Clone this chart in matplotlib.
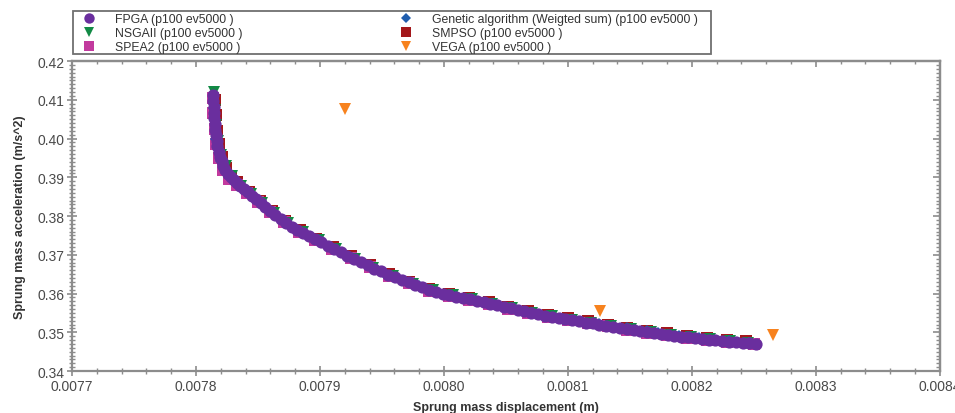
import numpy as np
import matplotlib.pyplot as plt
from matplotlib.patches import Rectangle
from matplotlib.ticker import MultipleLocator, FormatStrFormatter

plt.rcParams['font.family'] = ['Liberation Sans', 'DejaVu Sans']

# Pareto fronts, 5000 evaluations, population 100
fpga_x = [0.0078140, 0.0078141, 0.0078143, 0.0078145, 0.0078148, 0.0078151, 0.0078155,
          0.0078160, 0.0078166, 0.0078173, 0.0078182, 0.0078193, 0.0078206, 0.0078221,
          0.0078238, 0.0078258, 0.0078280, 0.0078304, 0.0078330, 0.0078358, 0.0078388,
          0.0078420, 0.0078452, 0.0078486, 0.0078522, 0.0078560, 0.0078600, 0.0078641,
          0.0078683, 0.0078727, 0.0078772, 0.0078818, 0.0078865, 0.0078913, 0.0078962,
          0.0079012, 0.0079063, 0.0079115, 0.0079168, 0.0079222, 0.0079276, 0.0079330,
          0.0079385, 0.0079440, 0.0079495, 0.0079550, 0.0079605, 0.0079660, 0.0079715,
          0.0079770, 0.0079825, 0.0079880, 0.0079935, 0.0079990, 0.0080045, 0.0080100,
          0.0080155, 0.0080210, 0.0080265, 0.0080320, 0.0080375, 0.0080430, 0.0080485,
          0.0080540, 0.0080595, 0.0080650, 0.0080705, 0.0080760, 0.0080815, 0.0080870,
          0.0080925, 0.0080980, 0.0081035, 0.0081090, 0.0081145, 0.0081200, 0.0081255,
          0.0081310, 0.0081365, 0.0081420, 0.0081475, 0.0081530, 0.0081585, 0.0081640,
          0.0081695, 0.0081750, 0.0081805, 0.0081860, 0.0081915, 0.0081970, 0.0082025,
          0.0082080, 0.0082135, 0.0082190, 0.0082245, 0.0082300, 0.0082355, 0.0082410,
          0.0082465, 0.0082520]
fpga_y = [0.4112, 0.4097, 0.4082, 0.4067, 0.4052, 0.4037, 0.4022,
          0.4008, 0.3994, 0.3980, 0.3966, 0.3953, 0.3941, 0.3929,
          0.3918, 0.3908, 0.3900, 0.3893, 0.3885, 0.3877, 0.3869,
          0.3861, 0.3852, 0.3843, 0.3834, 0.3824, 0.3814, 0.3803,
          0.3793, 0.3783, 0.3773, 0.3765, 0.3756, 0.3748, 0.3740,
          0.3732, 0.3724, 0.3715, 0.3707, 0.3698, 0.3689, 0.3681,
          0.3673, 0.3664, 0.3657, 0.3649, 0.3642, 0.3635, 0.3629,
          0.3622, 0.3616, 0.3610, 0.3605, 0.3600, 0.3596, 0.3592,
          0.3588, 0.3585, 0.3581, 0.3578, 0.3574, 0.3570, 0.3566,
          0.3562, 0.3558, 0.3554, 0.3550, 0.3546, 0.3543, 0.3540,
          0.3537, 0.3534, 0.3531, 0.3528, 0.3525, 0.3523, 0.3520,
          0.3517, 0.3514, 0.3512, 0.3509, 0.3506, 0.3503, 0.3501,
          0.3498, 0.3496, 0.3493, 0.3491, 0.3489, 0.3487, 0.3485,
          0.3483, 0.3481, 0.3479, 0.3478, 0.3476, 0.3475, 0.3473,
          0.3472, 0.3470]

nsga_x = [0.0078143, 0.0078150, 0.0078160, 0.0078175, 0.0078200, 0.0078240, 0.0078290,
          0.0078360, 0.0078440, 0.0078530, 0.0078630, 0.0078740, 0.0078860, 0.0078990,
          0.0079130, 0.0079280, 0.0079430, 0.0079590, 0.0079750, 0.0079910, 0.0080070,
          0.0080230, 0.0080390, 0.0080550, 0.0080710, 0.0080870, 0.0081030, 0.0081190,
          0.0081350, 0.0081510, 0.0081670, 0.0081830, 0.0081990, 0.0082150, 0.0082310,
          0.0082450]
nsga_y = [0.4120, 0.4075, 0.4035, 0.3995, 0.3958, 0.3928, 0.3903,
          0.3878, 0.3856, 0.3833, 0.3807, 0.3782, 0.3758, 0.3737,
          0.3714, 0.3689, 0.3667, 0.3645, 0.3625, 0.3608, 0.3595,
          0.3585, 0.3574, 0.3562, 0.3551, 0.3541, 0.3532, 0.3524,
          0.3516, 0.3508, 0.3501, 0.3493, 0.3487, 0.3482, 0.3477,
          0.3473]

spea_x = [0.0078135, 0.0078140, 0.0078150, 0.0078162, 0.0078185, 0.0078220, 0.0078270,
          0.0078335, 0.0078410, 0.0078500, 0.0078600, 0.0078710, 0.0078830, 0.0078960,
          0.0079100, 0.0079250, 0.0079400, 0.0079560, 0.0079720, 0.0079880, 0.0080040,
          0.0080200, 0.0080360, 0.0080520, 0.0080680, 0.0080840, 0.0081000, 0.0081160,
          0.0081320, 0.0081480, 0.0081640, 0.0081800, 0.0081960, 0.0082120, 0.0082280,
          0.0082500]
spea_y = [0.4105, 0.4065, 0.4025, 0.3985, 0.3950, 0.3920, 0.3895,
          0.3879, 0.3860, 0.3837, 0.3811, 0.3785, 0.3760, 0.3739,
          0.3715, 0.3691, 0.3668, 0.3646, 0.3627, 0.3607, 0.3594,
          0.3583, 0.3573, 0.3561, 0.3550, 0.3540, 0.3531, 0.3523,
          0.3515, 0.3507, 0.3499, 0.3492, 0.3485, 0.3480, 0.3475,
          0.3469]

ga_x = [0.0078145, 0.0078165, 0.0078205, 0.0078280, 0.0078400, 0.0078560, 0.0078760,
        0.0079000, 0.0079260, 0.0079520, 0.0079800, 0.0080100, 0.0080400, 0.0080700,
        0.0080960, 0.0081250, 0.0081480, 0.0081640, 0.0081730, 0.0081900, 0.0082060,
        0.0082300, 0.0082460]
ga_y = [0.4080, 0.4000, 0.3942, 0.3901, 0.3866, 0.3824, 0.3775,
        0.3735, 0.3692, 0.3653, 0.3620, 0.3592, 0.3572, 0.3550,
        0.3535, 0.3522, 0.3512, 0.3504, 0.3498, 0.3490, 0.3484,
        0.3478, 0.3473]

smpso_x = [0.0078156, 0.0078161, 0.0078171, 0.0078185, 0.0078208, 0.0078240, 0.0078285,
           0.0078335, 0.0078425, 0.0078515, 0.0078615, 0.0078722, 0.0078840, 0.0078968,
           0.0079105, 0.0079252, 0.0079402, 0.0079560, 0.0079720, 0.0079880, 0.0080040,
           0.0080200, 0.0080360, 0.0080520, 0.0080680, 0.0080840, 0.0081000, 0.0081160,
           0.0081320, 0.0081480, 0.0081640, 0.0081800, 0.0081960, 0.0082120, 0.0082280,
           0.0082440]
smpso_y = [0.4100, 0.4060, 0.4020, 0.3985, 0.3952, 0.3925, 0.3903,
           0.3887, 0.3863, 0.3839, 0.3813, 0.3787, 0.3764, 0.3742,
           0.3720, 0.3696, 0.3673, 0.3651, 0.3631, 0.3613, 0.3599,
           0.3588, 0.3578, 0.3566, 0.3555, 0.3545, 0.3536, 0.3528,
           0.3520, 0.3512, 0.3504, 0.3497, 0.3491, 0.3485, 0.3481,
           0.3477]

vega_x = [0.0079202, 0.0081258, 0.0082653]
vega_y = [0.4077, 0.3555, 0.3493]

fig = plt.figure(figsize=(9.55, 4.14), dpi=100)
ax = fig.add_axes([0.0754, 0.1014, 0.9086, 0.7486])

h_smpso, = ax.plot(smpso_x, smpso_y, 's', color='#A3171B', ms=8, mew=0, label='SMPSO (p100 ev5000 )')
h_spea, = ax.plot(spea_x, spea_y, 's', color='#C23A9E', ms=8, mew=0, label='SPEA2 (p100 ev5000 )')
h_nsga, = ax.plot(nsga_x, nsga_y, 'v', color='#128A45', ms=8, mew=0, label='NSGAII (p100 ev5000 )')
h_ga, = ax.plot(ga_x, ga_y, 'D', color='#1F5DAE', ms=6, mew=0,
                label='Genetic algorithm (Weigted sum) (p100 ev5000 )')
h_fpga, = ax.plot(fpga_x, fpga_y, 'o', color='#6A2E9E', ms=8.8, mew=0, label='FPGA (p100 ev5000 )')
h_vega, = ax.plot(vega_x, vega_y, 'v', color='#F7821E', ms=8, mew=0, label='VEGA (p100 ev5000 )')

ax.set_xlim(0.0077, 0.0084)
ax.set_ylim(0.34, 0.42)
ax.xaxis.set_major_locator(MultipleLocator(0.0001))
ax.xaxis.set_minor_locator(MultipleLocator(0.00002))
ax.yaxis.set_major_locator(MultipleLocator(0.01))
ax.yaxis.set_minor_locator(MultipleLocator(0.001))
ax.xaxis.set_major_formatter(FormatStrFormatter('%.4f'))
ax.yaxis.set_major_formatter(FormatStrFormatter('%.2f'))

spine_col = '#8C8C8C'
for s in ax.spines.values():
    s.set_color(spine_col)
    s.set_linewidth(1.6)
ax.tick_params(which='major', direction='inout', length=7, width=1.2, color=spine_col,
               labelsize=10, labelcolor='#4A4A4A', pad=2)
ax.tick_params(which='minor', direction='inout', length=4, width=1.0, color=spine_col)

# mirrored ticks on the top and right edges, pointing inward only
top = ax.secondary_xaxis('top')
top.xaxis.set_major_locator(MultipleLocator(0.0001))
top.xaxis.set_minor_locator(MultipleLocator(0.00002))
top.tick_params(which='major', direction='in', length=4, width=1.2, color=spine_col, labeltop=False)
top.tick_params(which='minor', direction='in', length=2.5, width=1.0, color=spine_col)
top.spines['top'].set_color(spine_col)
top.spines['top'].set_linewidth(1.6)
right = ax.secondary_yaxis('right')
right.yaxis.set_major_locator(MultipleLocator(0.01))
right.yaxis.set_minor_locator(MultipleLocator(0.001))
right.tick_params(which='major', direction='in', length=5, width=1.2, color=spine_col, labelright=False)
right.tick_params(which='minor', direction='in', length=3, width=1.0, color=spine_col)
right.spines['right'].set_color(spine_col)
right.spines['right'].set_linewidth(1.6)

ax.set_xlabel('Sprung mass displacement (m)', fontsize=9, fontweight='bold', color='#333333', labelpad=6)
ax.set_ylabel('Sprung mass acceleration (m/s^2)', fontsize=9, fontweight='bold', color='#333333', labelpad=8)

# legend box drawn separately so it can run wider than its entries
handles = [h_fpga, h_nsga, h_spea, h_ga, h_smpso, h_vega]
leg = fig.legend(handles=handles, loc='upper left', bbox_to_anchor=(0.0764, 0.9710),
                 ncol=2, fontsize=8.8, frameon=False, borderaxespad=0, borderpad=0.15,
                 labelspacing=0.18, handlelength=2.3, handletextpad=1.0, columnspacing=12.2,
                 markerscale=0.85)
for t in leg.get_texts():
    t.set_color('#333333')
fig.patches.append(Rectangle((0.0764, 0.8671), 0.668, 0.1039, transform=fig.transFigure,
                             fill=False, edgecolor='#707070', linewidth=1.3))

fig.savefig('out.png', dpi=100)
